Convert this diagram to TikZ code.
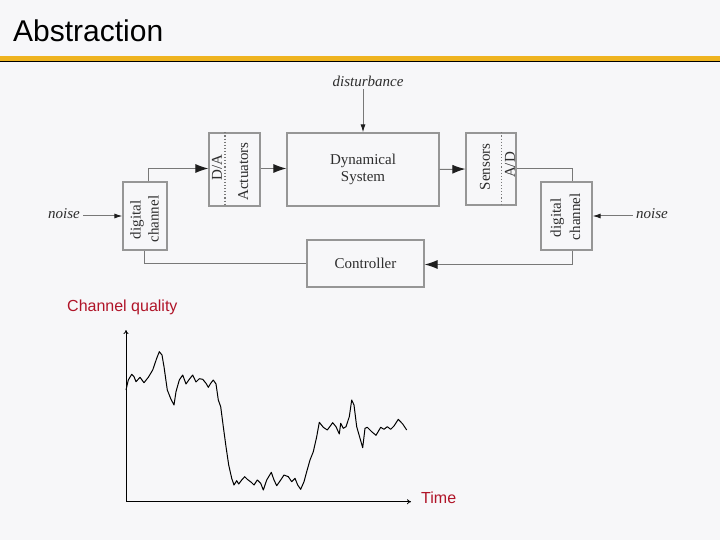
\documentclass[tikz,border=0pt]{standalone}
\usepackage{fontspec}
\setmainfont{Liberation Serif}
\newfontfamily\titlesans{Liberation Sans}
\usetikzlibrary{arrows.meta,calc}
\definecolor{bgc}{RGB}{247,247,249}
\definecolor{barY}{RGB}{239,180,32}
\definecolor{boxc}{RGB}{150,150,150}
\definecolor{linec}{RGB}{120,120,120}
\definecolor{headc}{RGB}{30,30,30}
\definecolor{txtc}{RGB}{45,45,45}
\definecolor{redc}{RGB}{176,20,40}
\tikzset{
  blk/.style={draw=boxc,line width=1.2pt,fill=bgc,inner sep=0pt,font=\fontsize{15}{16.7}\selectfont,text=txtc,align=center},
  lbl/.style={inner sep=0pt,font=\fontsize{15}{16.7}\selectfont,text=txtc},
  vlbl/.style={lbl,rotate=90},
  conn/.style={draw=linec,line width=1pt},
  arr/.style={conn,-{Latex[length=13pt,width=9pt,color=headc]}},
  sarr/.style={conn,-{Latex[length=8pt,width=5pt,color=headc]}},
  dotl/.style={draw=linec,line width=1.1pt,dotted},
  axis/.style={draw=black,line width=0.8pt,-{To[length=4pt,width=5pt]}},
  redlbl/.style={inner sep=0pt,anchor=west,text=redc,font=\titlesans\fontsize{16}{18}\selectfont}
}
\begin{document}
\begin{tikzpicture}[x=1pt,y=-1pt]
\fill[bgc] (0,0) rectangle (720,540);
\useasboundingbox (0,0) rectangle (720,540);
% title
\node[anchor=west,inner sep=0pt,font=\titlesans\fontsize{30}{33}\selectfont] (title) at (13,31) {Abstraction};
\fill[barY] (0,56.5) rectangle (720,61.2);
\draw[black,line width=1.1pt] (0,61.8) -- (720,61.8);

% blocks
\node[blk,minimum width=44pt,minimum height=68pt] (chL) at (145,216) {};
\node[blk,minimum width=51pt,minimum height=73pt] (da) at (234.5,169.5) {};
\node[blk,minimum width=152pt,minimum height=73pt] (dyn) at (363,169.5) {Dynamical\\System};
\node[blk,minimum width=50pt,minimum height=72pt] (sen) at (491,169) {};
\node[blk,minimum width=51pt,minimum height=68pt] (chR) at (566.5,216) {};
\node[blk,minimum width=117pt,minimum height=47pt] (ctrl) at (365.5,263.5) {Controller};

% dotted dividers
\draw[dotl] ([xshift=-9.5pt]da.north) -- ([xshift=-9.5pt]da.south);
\draw[dotl] ([xshift=10.7pt]sen.north) -- ([xshift=10.7pt]sen.south);

% rotated labels
\node[vlbl] (chLa) at (137,220) {digital};
\node[vlbl] (chLb) at (153.5,219) {channel};
\node[vlbl] (daa) at (217,167.5) {D/A};
\node[vlbl] (dab) at (243.3,171.5) {Actuators};
\node[vlbl] (sena) at (485,167) {Sensors};
\node[vlbl] (senb) at (510,165) {A/D};
\node[vlbl] (chRa) at (557.3,218) {digital};
\node[vlbl] (chRb) at (575,216.7) {channel};

% external inputs
\node[lbl,font=\itshape\fontsize{15}{16.7}\selectfont] (dist) at (368,81) {disturbance};
\node[lbl,font=\itshape\fontsize{15}{16.7}\selectfont] (nL) at (64,214) {noise};
\node[lbl,font=\itshape\fontsize{15}{16.7}\selectfont] (nR) at (652,214) {noise};

% connectors
\draw[sarr] ([yshift=-3pt]dist.south -| dyn.north) -- (dyn.north);
\draw[sarr] ([xshift=3pt]nL.east |- chL.west) -- (chL.west);
\draw[sarr] ([xshift=-3pt]nR.west |- chR.east) -- (chR.east);
\draw[arr] ([xshift=3pt]chL.north) |- ([yshift=1pt]da.west);
\draw[arr] ([yshift=1pt]da.east) -- ([yshift=1pt]dyn.west);
\draw[arr] (dyn.east) -- (sen.west);
\draw[conn] (sen.east) -| ([xshift=6pt]chR.north);
\draw[arr] ([xshift=6pt]chR.south) |- ([yshift=-1pt]ctrl.east);
\draw[conn] ([yshift=0.5pt]ctrl.west) -| ([xshift=-0.7pt]chL.south);

% chart
\coordinate (O) at (126,501.7);
\coordinate (Ytip) at (126,330);
\coordinate (Xtip) at (411,501.7);
\draw[axis] (O) -- (Ytip);
\draw[axis] (O) -- (Xtip);
\node[redlbl] (cq) at (67,307.5) {Channel quality};
\node[redlbl] (tm) at (421,497.5) {Time};
\draw[black,line width=1pt,line join=round] plot coordinates {
(126.0,390.0) (128.3,380.0) (131.7,374.3) (134.0,376.7) (136.0,381.7) (140.0,377.3)
(144.0,382.7) (148.3,377.3) (152.7,370.0) (156.7,358.3) (159.3,351.7) (162.0,355.0)
(164.0,366.7) (167.3,390.0) (171.0,399.3) (174.0,405.0) (176.0,391.7) (179.3,380.0)
(182.7,375.0) (186.0,384.0) (189.3,379.3) (192.7,375.0) (196.0,382.0) (199.3,378.7)
(202.7,379.3) (206.0,383.3) (208.3,387.3) (210.7,383.3) (213.3,380.0) (216.0,384.0)
(218.3,400.0) (220.7,406.7) (223.3,426.7) (226.0,446.7) (228.7,465.0) (231.7,478.3)
(234.0,485.0) (236.7,480.7) (238.7,484.0) (241.7,480.0) (244.7,476.7) (247.3,479.3)
(251.3,482.3) (254.0,485.0) (257.3,480.0) (260.7,483.3) (263.3,490.0) (266.7,480.0)
(271.3,472.3) (274.0,480.0) (276.7,485.7) (280.7,480.0) (284.0,475.0) (288.3,476.7)
(291.7,481.7) (295.0,478.3) (297.7,485.0) (300.7,489.3) (304.0,481.7) (306.7,471.7)
(310.0,460.0) (313.3,451.7) (316.7,436.7) (319.3,422.3) (323.3,427.3) (327.3,430.0)
(332.7,422.7) (336.0,426.7) (339.3,434.0) (340.7,423.3) (343.3,428.3) (346.0,426.7)
(349.3,416.7) (351.7,400.0) (354.0,405.0) (356.7,426.7) (360.0,438.3) (362.7,447.7)
(365.0,428.3) (367.3,427.3) (371.7,431.7) (376.0,435.3) (380.7,427.3) (384.0,429.3)
(387.3,426.7) (390.7,429.3) (394.0,426.0) (398.3,419.3) (402.7,424.0) (406.7,430.0)
};
\end{tikzpicture}
\end{document}
